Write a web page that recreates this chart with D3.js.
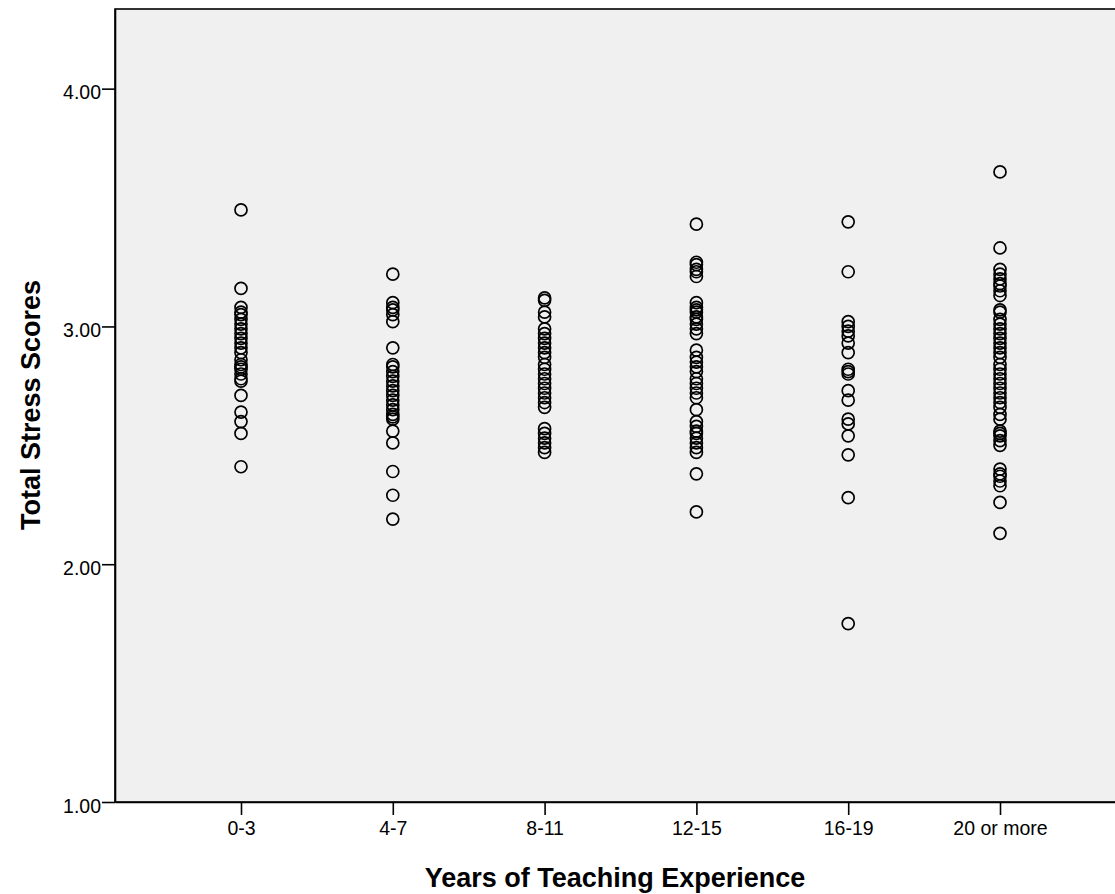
<!DOCTYPE html>
<html>
<head>
<meta charset="utf-8">
<script src="https://cdn.jsdelivr.net/npm/d3@7"></script>
<style>
  body { margin: 0; background: #fff; }
  svg { display: block; font-family: "Liberation Sans", Arial, sans-serif; }
</style>
</head>
<body>
<div id="chart-area"></div>
<script>
// categories on the x axis
const categories = ["0-3", "4-7", "8-11", "12-15", "16-19", "20 or more"]

// stress scores, one list per group
const scores_0_3 = [3.49, 3.16, 3.08, 3.06, 3.05, 3.03, 3.01, 2.99, 2.97, 2.95, 2.93, 2.91, 2.89,
  2.86, 2.84, 2.83, 2.82, 2.80, 2.78, 2.77, 2.71, 2.64, 2.60, 2.55, 2.41]
const scores_4_7 = [3.22, 3.10, 3.08, 3.07, 3.05, 3.02, 2.91, 2.84, 2.83, 2.81, 2.79, 2.77, 2.75,
  2.73, 2.71, 2.69, 2.67, 2.65, 2.63, 2.62, 2.61, 2.56, 2.51, 2.39, 2.29, 2.19]
const scores_8_11 = [3.12, 3.11, 3.06, 3.04, 2.99, 2.97, 2.95, 2.93, 2.91, 2.89, 2.87, 2.84, 2.82,
  2.80, 2.78, 2.76, 2.74, 2.72, 2.70, 2.68, 2.66, 2.57, 2.55, 2.53, 2.51, 2.49, 2.47]
const scores_12_15 = [3.43, 3.27, 3.26, 3.24, 3.23, 3.21, 3.10, 3.08, 3.07, 3.06, 3.04, 3.03, 3.01,
  2.99, 2.97, 2.90, 2.87, 2.85, 2.83, 2.81, 2.78, 2.76, 2.74, 2.72, 2.70, 2.65, 2.60, 2.58,
  2.56, 2.55, 2.53, 2.51, 2.49, 2.47, 2.38, 2.22]
const scores_16_19 = [3.44, 3.23, 3.02, 3.00, 2.98, 2.96, 2.93, 2.89, 2.82, 2.81, 2.80, 2.73, 2.69,
  2.61, 2.59, 2.54, 2.46, 2.28, 1.75]
const scores_20_plus = [3.65, 3.33, 3.24, 3.22, 3.20, 3.18, 3.17, 3.15, 3.13, 3.07, 3.06, 3.03, 3.01,
  2.99, 2.97, 2.95, 2.93, 2.91, 2.89, 2.87, 2.84, 2.82, 2.80, 2.78, 2.76, 2.74, 2.72, 2.70,
  2.68, 2.66, 2.63, 2.61, 2.56, 2.55, 2.54, 2.52, 2.50, 2.40, 2.38, 2.37, 2.35, 2.33, 2.26, 2.13]

const yTicks = [1, 2, 3, 4]

const groups = [scores_0_3, scores_4_7, scores_8_11, scores_12_15, scores_16_19, scores_20_plus]
const points = []
groups.forEach((g, i) => g.forEach(v => points.push({ cat: categories[i], score: v })))

const W = 1115, H = 894
const MARGIN = { LEFT: 115, TOP: 9, BOTTOM: 92 }
const PLOT_RIGHT = 1126
const PLOT_BOTTOM = H - MARGIN.BOTTOM

const svg = d3.select("#chart-area").append("svg")
  .attr("width", W)
  .attr("height", H)

const x = d3.scalePoint()
  .domain(categories)
  .range([MARGIN.LEFT, PLOT_RIGHT])
  .padding(0.83)

const y = d3.scaleLinear()
  .domain([1, 4.335])
  .range([PLOT_BOTTOM, MARGIN.TOP])

// plot background
svg.append("rect")
  .attr("x", MARGIN.LEFT)
  .attr("y", MARGIN.TOP)
  .attr("width", PLOT_RIGHT - MARGIN.LEFT)
  .attr("height", PLOT_BOTTOM - MARGIN.TOP)
  .attr("fill", "#f0f0f0")
  .attr("stroke", "#000")
  .attr("stroke-width", 1.6)

// y axis
const yAxis = svg.append("g")
  .attr("transform", `translate(${MARGIN.LEFT}, 0)`)
  .call(d3.axisLeft(y).tickValues(yTicks).tickFormat(d3.format(".2f"))
    .tickSize(13).tickSizeOuter(0).tickPadding(1))
yAxis.select(".domain").attr("stroke-width", 1.6)
yAxis.selectAll(".tick line").attr("stroke-width", 1.6)
yAxis.selectAll("text")
  .style("font-size", "19.5px")
  .attr("fill", "#000")
  .attr("dy", "0.52em")

// x axis
const xAxis = svg.append("g")
  .attr("transform", `translate(0, ${PLOT_BOTTOM})`)
  .call(d3.axisBottom(x).tickSize(13).tickPadding(7).tickSizeOuter(0))
xAxis.select(".domain").attr("stroke-width", 1.6)
xAxis.selectAll(".tick line").attr("stroke-width", 1.6)
xAxis.selectAll("text")
  .style("font-size", "19.5px")
  .attr("fill", "#000")
  .attr("dy", "0.68em")

// points
svg.append("g").selectAll("circle")
  .data(points)
  .enter().append("circle")
    .attr("cx", d => x(d.cat))
    .attr("cy", d => y(d.score))
    .attr("r", 6)
    .attr("fill", "none")
    .attr("stroke", "#000")
    .attr("stroke-width", 1.7)

// axis titles
svg.append("text")
  .attr("x", 615)
  .attr("y", 887)
  .attr("text-anchor", "middle")
  .style("font-size", "27px")
  .attr("font-weight", "bold")
  .text("Years of Teaching Experience")

svg.append("text")
  .attr("transform", `translate(40, 405) rotate(-90)`)
  .attr("text-anchor", "middle")
  .style("font-size", "27px")
  .attr("font-weight", "bold")
  .text("Total Stress Scores")
</script>
</body>
</html>
